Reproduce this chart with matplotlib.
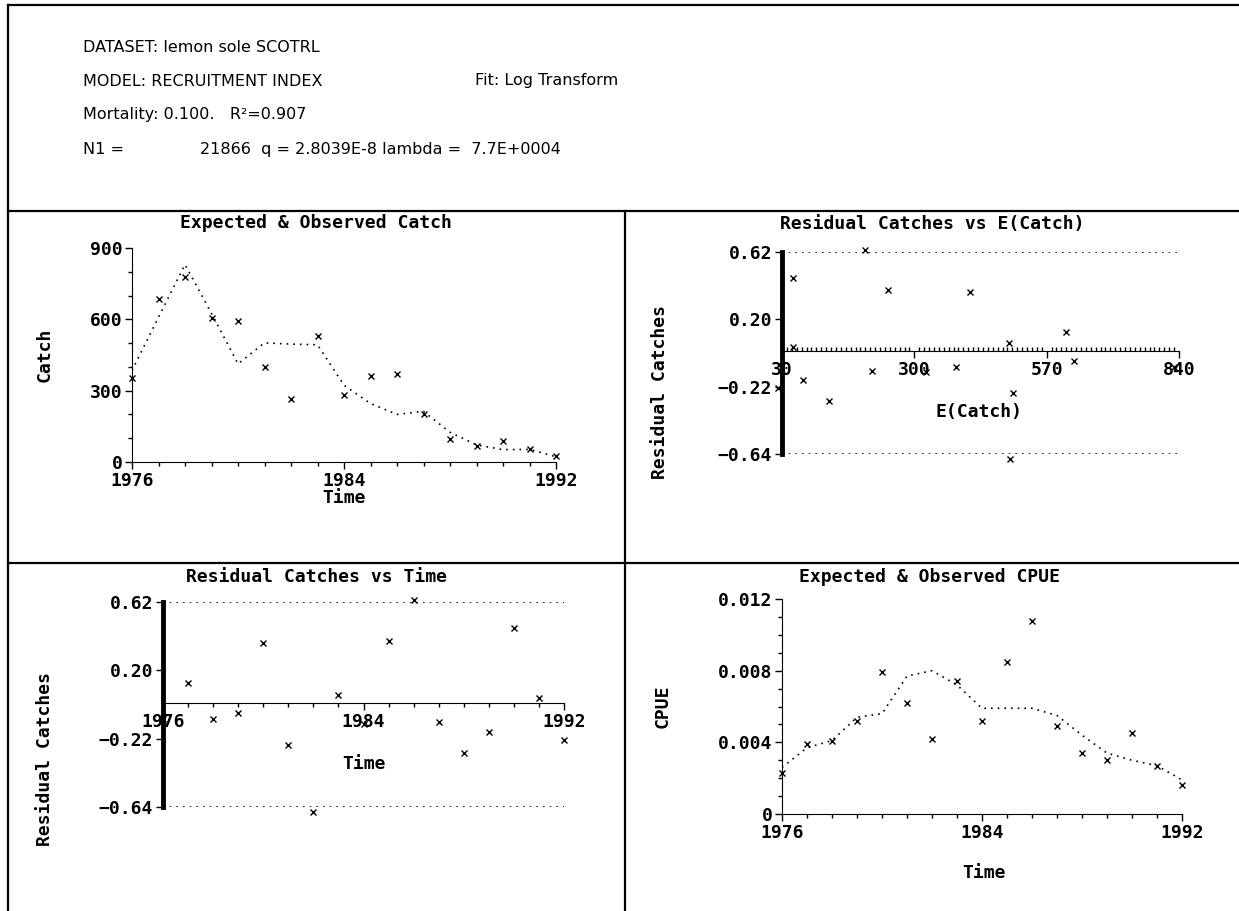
import numpy as np
import matplotlib
matplotlib.use("Agg")
import matplotlib.pyplot as plt
from matplotlib.lines import Line2D
from matplotlib.ticker import MultipleLocator

W, H = 1239, 911

# data
years = list(range(1976, 1993))
catch_obs = [355, 686, 776, 605, 593, 399, 264, 529, 283, 361, 368, 202, 96, 67, 87, 56, 24]
catch_exp = [385, 609, 830, 625, 413, 501, 496, 493, 323, 246, 200, 213, 125, 72, 52, 53, 22]
residuals = [-0.10, 0.12, -0.10, -0.06, 0.37, -0.26, -0.67, 0.05, -0.13, 0.38, 0.63,
             -0.12, -0.31, -0.18, 0.46, 0.03, -0.23]
cpue_obs = [0.0023, 0.0039, 0.0041, 0.0052, 0.0079, 0.0062, 0.0042, 0.0074, 0.0052,
            0.0085, 0.0108, 0.0049, 0.0034, 0.0030, 0.0045, 0.0027, 0.0016]
cpue_exp = [0.0026, 0.0037, 0.0041, 0.0054, 0.0056, 0.0077, 0.0080, 0.0072, 0.0059,
            0.0059, 0.0059, 0.0055, 0.0044, 0.0034, 0.0030, 0.0027, 0.0019]

catch_ticks = [0, 300, 600, 900]
resid_ticks = [-0.64, -0.22, 0.20, 0.62]
resid_ticklabels = ["\u22120.64", "\u22120.22", "0.20", "0.62"]
ecatch_ticks = [30, 300, 570, 840]
cpue_ticks = [0, 0.004, 0.008, 0.012]
cpue_ticklabels = ["0", "0.004", "0.008", "0.012"]
year_ticks = [1976, 1984, 1992]

header = [
    "DATASET: lemon sole SCOTRL",
    "MODEL: RECRUITMENT INDEX",
    "Mortality: 0.100.   R\u00b2=0.907",
    "N1 =",
]

MONO = "DejaVu Sans Mono"
FS = 13


def rect(x0, y0, x1, y1):
    return [x0 / W, 1 - y1 / H, (x1 - x0) / W, (y1 - y0) / H]


def ftext(x, y, s, **kw):
    fig.text(x / W, 1 - y / H, s, **kw)


def fline(xs, ys, lw=1.6):
    fig.add_artist(Line2D([x / W for x in xs], [1 - y / H for y in ys],
                          transform=fig.transFigure, color="black", lw=lw))


def style(ax):
    for lab in ax.get_xticklabels() + ax.get_yticklabels():
        lab.set_family(MONO)
        lab.set_weight("bold")
        lab.set_fontsize(FS)
    ax.tick_params(which="major", length=5, width=1, pad=2)
    ax.tick_params(which="minor", length=3, width=1)
    ax.spines["top"].set_visible(False)
    ax.spines["right"].set_visible(False)


fig = plt.figure(figsize=(W / 100, H / 100), dpi=100)

# frame
fline([8, 8], [5, 911])
fline([8, 1239], [5, 5])
fline([8, 1239], [211, 211])
fline([8, 1239], [563, 563])
fline([625, 625], [211, 911])

# header
hdr = dict(fontsize=11.5, va="center", family="DejaVu Sans", color="black")
for i, s in enumerate(header):
    ftext(83, 47 + 34 * i, s, **hdr)
ftext(475, 81, "Fit: Log Transform", **hdr)
ftext(200, 149, "21866  q = 2.8039E-8 lambda =  7.7E+0004", **hdr)

mk = dict(marker="x", ls="none", color="black", ms=4.5, mew=1, clip_on=False)
dot = dict(color="black", lw=1.2, ls=(0, (1, 3)))

# panel 1: catch
ax1 = fig.add_axes(rect(132, 248, 556, 462))
ax1.plot(years, catch_exp, **dot)
ax1.plot(years, catch_obs, **mk)
ax1.set_xlim(1976, 1992)
ax1.set_ylim(0, 900)
ax1.set_xticks(year_ticks)
ax1.xaxis.set_minor_locator(MultipleLocator(1))
ax1.set_yticks(catch_ticks)
ax1.yaxis.set_minor_locator(MultipleLocator(100))
style(ax1)

# panel 2: residuals vs E(catch)
ax2 = fig.add_axes(rect(782, 252, 1179, 454))
ax2.plot([30, 840], [0.62, 0.62], **dot)
ax2.plot([30, 840], [-0.64, -0.64], **dot)
ax2.plot(catch_exp, residuals, **mk)
ax2.set_xlim(30, 840)
ax2.set_ylim(-0.64, 0.62)
ax2.spines["bottom"].set_position(("data", 0))
ax2.spines["left"].set_linewidth(3.5)
ax2.set_xticks(ecatch_ticks)
ax2.xaxis.set_minor_locator(MultipleLocator(10))
ax2.set_yticks(resid_ticks)
ax2.set_yticklabels(resid_ticklabels)
style(ax2)
ax2.tick_params(axis="x", which="minor", direction="in", length=3)

# panel 3: residuals vs time
ax3 = fig.add_axes(rect(163, 602, 564, 807))
ax3.plot([1976, 1992], [0.62, 0.62], **dot)
ax3.plot([1976, 1992], [-0.64, -0.64], **dot)
ax3.plot(years, residuals, **mk)
ax3.set_xlim(1976, 1992)
ax3.set_ylim(-0.64, 0.62)
ax3.spines["bottom"].set_position(("data", 0))
ax3.spines["left"].set_linewidth(3.5)
ax3.set_xticks(year_ticks)
ax3.xaxis.set_minor_locator(MultipleLocator(1))
ax3.set_yticks(resid_ticks)
ax3.set_yticklabels(resid_ticklabels)
style(ax3)

# panel 4: CPUE
ax4 = fig.add_axes(rect(782, 599, 1182, 814))
ax4.plot(years, cpue_exp, **dot)
ax4.plot(years, cpue_obs, **mk)
ax4.set_xlim(1976, 1992)
ax4.set_ylim(0, 0.012)
ax4.set_xticks(year_ticks)
ax4.xaxis.set_minor_locator(MultipleLocator(1))
ax4.set_yticks(cpue_ticks)
ax4.set_yticklabels(cpue_ticklabels)
ax4.yaxis.set_minor_locator(MultipleLocator(0.001))
style(ax4)

# titles and axis labels
lab = dict(family=MONO, weight="bold", fontsize=FS, ha="center", va="center")
ftext(316, 223, "Expected & Observed Catch", **lab)
ftext(932, 224, "Residual Catches vs E(Catch)", **lab)
ftext(316, 577, "Residual Catches vs Time", **lab)
ftext(930, 577, "Expected & Observed CPUE", **lab)
ftext(45, 355, "Catch", rotation=90, **lab)
ftext(660, 392, "Residual Catches", rotation=90, **lab)
ftext(45, 759, "Residual Catches", rotation=90, **lab)
ftext(663, 706, "CPUE", rotation=90, **lab)
ftext(344, 498, "Time", **lab)
ftext(979, 412, "E(Catch)", **lab)
ftext(364, 764, "Time", **lab)
ftext(984, 873, "Time", **lab)

fig.savefig("out.png", dpi=100)
